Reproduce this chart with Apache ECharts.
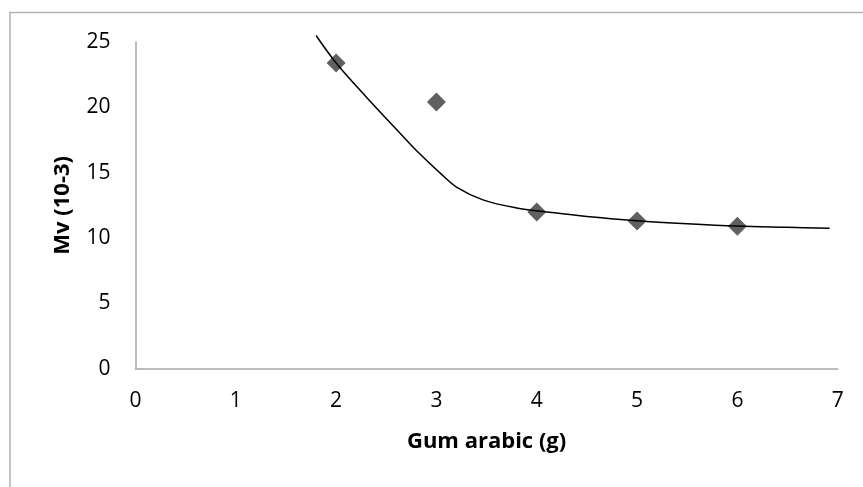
<!DOCTYPE html>
<html>
<head>
<meta charset="utf-8">
<script src="https://cdn.jsdelivr.net/npm/echarts@6/dist/echarts.min.js"></script>
<style>
html, body { margin: 0; padding: 0; background: #fff; }
#main { width: 863px; height: 487px; }
</style>
</head>
<body>
<div id="main"></div>
<script>
// measured points
var gumX = [2, 3, 4, 5, 6];
var mvY = [23.4, 20.4, 12.0, 11.3, 10.9];

// trendline
var trendX = [1.80, 2.00, 2.30, 2.64, 2.80, 3.04, 3.20, 3.47, 3.80, 4.10, 4.50, 5.00, 5.50, 6.00, 6.50, 6.92];
var trendY = [25.5, 23.4, 20.8, 18.0, 16.7, 14.95, 13.9, 12.9, 12.3, 12.0, 11.65, 11.33, 11.1, 10.92, 10.82, 10.74];

var xTicks = [0, 1, 2, 3, 4, 5, 6, 7];
var yTicks = [0, 5, 10, 15, 20, 25];

var myChart = echarts.init(document.getElementById('main'));

var font = '"Open Sans", "Liberation Sans", sans-serif';

var option = {
	backgroundColor: '#fff',
	animation: false,
	graphic: [{
		type: 'rect',
		shape: { x: 10, y: 12.5, width: 900, height: 520 },
		style: { fill: 'none', stroke: '#b3b3b3', lineWidth: 1.5 },
		silent: true
	}],
	grid: {
		left: 135.5,
		right: 25.3,
		top: 42,
		bottom: 118.3
	},
	xAxis: {
		type: 'value',
		min: xTicks[0],
		max: xTicks[xTicks.length - 1],
		interval: 1,
		name: 'Gum arabic (g)',
		nameLocation: 'middle',
		nameGap: 62,
		nameTextStyle: { fontFamily: font, fontSize: 22, fontWeight: 'bold', color: '#000' },
		axisLine: { show: true, lineStyle: { color: '#a6a6a6', width: 1.5 } },
		axisTick: { show: false },
		splitLine: { show: false },
		axisLabel: { fontFamily: font, fontSize: 21, color: '#000', margin: 22 }
	},
	yAxis: {
		type: 'value',
		min: yTicks[0],
		max: yTicks[yTicks.length - 1],
		interval: 5,
		name: 'Mv (10-3)',
		nameLocation: 'middle',
		nameGap: 62,
		nameTextStyle: { fontFamily: font, fontSize: 22, fontWeight: 'bold', color: '#000' },
		axisLine: { show: true, lineStyle: { color: '#a6a6a6', width: 1.5 } },
		axisTick: { show: false },
		splitLine: { show: false },
		axisLabel: { fontFamily: font, fontSize: 21, color: '#000', margin: 25 }
	},
	series: [{
		name: 'trend',
		type: 'line',
		data: trendX.map(function(x, i) { return [x, trendY[i]]; }),
		smooth: 0.35,
		clip: false,
		showSymbol: false,
		symbol: 'none',
		lineStyle: { color: '#000', width: 1.5 },
		z: 3
	}, {
		name: 'Mv',
		type: 'scatter',
		data: gumX.map(function(x, i) { return [x, mvY[i]]; }),
		symbol: 'diamond',
		symbolSize: 19,
		itemStyle: { color: '#606060', opacity: 1 },
		z: 2
	}]
};
myChart.setOption(option);
</script>
</body>
</html>
